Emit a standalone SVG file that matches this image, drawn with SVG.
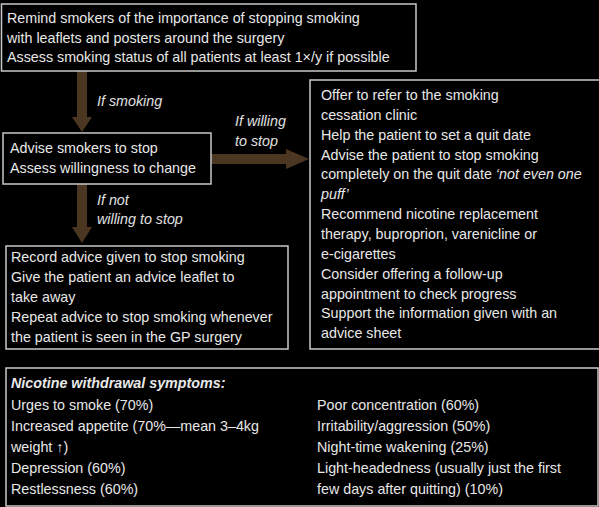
<svg xmlns="http://www.w3.org/2000/svg" width="599" height="507" viewBox="0 0 599 507">
<style>
.bg{fill:#000}
.box{fill:#000;stroke:#c8c8c8;stroke-width:1.5}
.t{font-family:"Liberation Sans",Arial,"DejaVu Sans",sans-serif;font-size:14.3px;fill:#e8e8e8}
.lbl{font-family:"Liberation Sans",Arial,sans-serif;font-size:14.3px;font-style:italic;fill:#e0e0e0}
.hd{font-weight:bold;font-style:italic}
.it{font-style:italic}
.arr{fill:#4b3621}
</style>
<rect class="bg" x="0" y="0" width="599" height="507"/>
<g id="connectors">
<polygon class="arr" points="77,71 87,71 87,117 92,117 82,132 72,117 77,117"/>
<polygon class="arr" points="77,184 87,184 87,227 92,227 82,243 72,227 77,227"/>
<polygon class="arr" points="211,154 286,154 286,149 309,159 286,169 286,164 211,164"/>
<text class="lbl" x="97" y="106">If smoking</text>
<text class="lbl" x="235" y="126">If willing</text>
<text class="lbl" x="235" y="146">to stop</text>
<text class="lbl" x="97" y="205">If not</text>
<text class="lbl" x="97" y="224">willing to stop</text>
</g>
<g id="node-remind">
<rect class="box" x="1.5" y="4" width="414.5" height="67"/>
<text class="t" x="7" y="23">Remind smokers of the importance of stopping smoking</text>
<text class="t" x="7" y="43">with leaflets and posters around the surgery</text>
<text class="t" x="7" y="62">Assess smoking status of all patients at least 1×/y if possible</text>
</g>
<g id="node-advise">
<rect class="box" x="3" y="133" width="208" height="51"/>
<text class="t" x="10" y="153">Advise smokers to stop</text>
<text class="t" x="10" y="173">Assess willingness to change</text>
</g>
<g id="node-record">
<rect class="box" x="6" y="246" width="282" height="103"/>
<text class="t" x="11" y="262">Record advice given to stop smoking</text>
<text class="t" x="11" y="282">Give the patient an advice leaflet to</text>
<text class="t" x="11" y="302">take away</text>
<text class="t" x="11" y="322">Repeat advice to stop smoking whenever</text>
<text class="t" x="11" y="342">the patient is seen in the GP surgery</text>
</g>
<g id="node-offer">
<rect class="box" x="310" y="80" width="292" height="269"/>
<text class="t" x="321" y="100">Offer to refer to the smoking</text>
<text class="t" x="321" y="119.9">cessation clinic</text>
<text class="t" x="321" y="139.7">Help the patient to set a quit date</text>
<text class="t" x="321" y="159.6">Advise the patient to stop smoking</text>
<text class="t" x="321" y="179.4">completely on the quit date <tspan class="it">‘not even one</tspan></text>
<text class="t it" x="321" y="199.3">puff’</text>
<text class="t" x="321" y="219.1">Recommend nicotine replacement</text>
<text class="t" x="321" y="239">therapy, buproprion, varenicline or</text>
<text class="t" x="321" y="258.8">e-cigarettes</text>
<text class="t" x="321" y="278.7">Consider offering a follow-up</text>
<text class="t" x="321" y="298.5">appointment to check progress</text>
<text class="t" x="321" y="318.4">Support the information given with an</text>
<text class="t" x="321" y="338.2">advice sheet</text>
</g>
<g id="node-withdrawal">
<rect class="box" x="6" y="368" width="592" height="138"/>
<text class="t hd" x="11" y="388">Nicotine withdrawal symptoms:</text>
<text class="t" x="11" y="410">Urges to smoke (70%)</text>
<text class="t" x="11" y="431">Increased appetite (70%—mean 3–4kg</text>
<text class="t" x="11" y="452">weight ↑)</text>
<text class="t" x="11" y="473">Depression (60%)</text>
<text class="t" x="11" y="494">Restlessness (60%)</text>
<text class="t" x="317" y="410">Poor concentration (60%)</text>
<text class="t" x="317" y="431">Irritability/aggression (50%)</text>
<text class="t" x="317" y="452">Night-time wakening (25%)</text>
<text class="t" x="317" y="473">Light-headedness (usually just the first</text>
<text class="t" x="317" y="494">few days after quitting) (10%)</text>
</g>
</svg>
